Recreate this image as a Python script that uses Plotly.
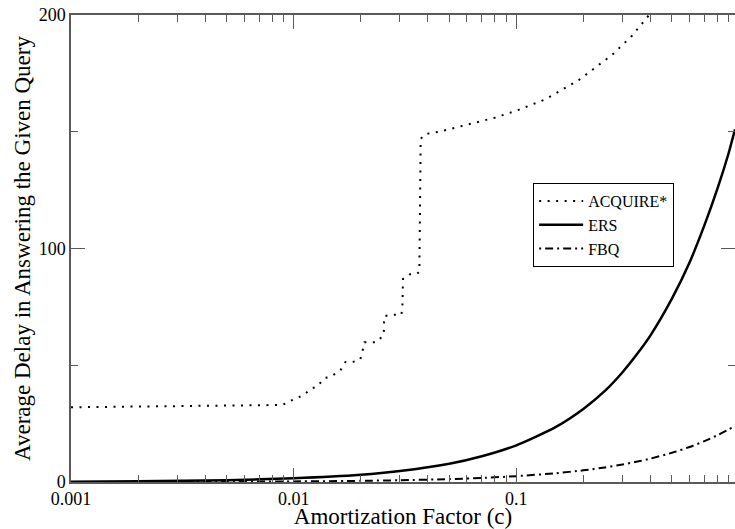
import plotly.graph_objects as go

# ---- data ----
acq_c = [0.001, 0.0089, 0.0103, 0.011, 0.012, 0.0128, 0.0137, 0.0146, 0.0162, 0.0171,
         0.0184, 0.0199, 0.0204, 0.0208, 0.0235, 0.0254, 0.0255, 0.0275, 0.0305, 0.0308,
         0.031, 0.0333, 0.0356, 0.0367, 0.0372, 0.039, 0.045, 0.06, 0.08, 0.1, 0.136,
         0.19, 0.27, 0.33, 0.395]
acq_v = [32, 33, 36, 37, 40, 41, 44.5, 45, 47.7, 51.4,
         51.4, 52.4, 56.2, 59.8, 59.8, 63, 71, 71.6, 71.6, 76,
         87, 89, 89, 90, 147, 149, 150, 153, 156, 159, 164,
         172, 183, 191, 200]

grid_c = [0.001, 0.002, 0.005, 0.01, 0.02, 0.03, 0.05, 0.07, 0.1, 0.15, 0.2, 0.25,
          0.3, 0.35, 0.4, 0.5, 0.6, 0.7, 0.8, 0.9, 0.96]
ers_v = [0.16, 0.31, 0.78, 1.6, 3.1, 4.7, 7.8, 11, 15.7, 23.5, 31.3, 39,
         47, 55, 62.7, 78.5, 94, 110, 125.5, 141, 151]
fbq_v = [0.025, 0.05, 0.12, 0.25, 0.5, 0.75, 1.25, 1.75, 2.5, 3.75, 5, 6.25,
         7.5, 8.75, 10, 12.5, 15, 17.5, 20, 22.5, 24]

x_tickvals = [0.001, 0.01, 0.1]
x_ticktext = ["0.001", "0.01", "0.1"]
y_tickvals = [0, 100, 200]

FONT = "Times New Roman, Times, Liberation Serif, DejaVu Serif, serif"
AX = "#5a5a5a"

fig = go.Figure()
fig.add_trace(go.Scatter(x=acq_c, y=acq_v, mode="lines", name="ACQUIRE*",
                         line=dict(color="black", width=2, dash="2px,6.5px")))
fig.add_trace(go.Scatter(x=grid_c, y=ers_v, mode="lines", name="ERS",
                         line=dict(color="black", width=2.5, shape="spline", smoothing=0.6)))
fig.add_trace(go.Scatter(x=grid_c, y=fbq_v, mode="lines", name="FBQ",
                         line=dict(color="black", width=2, dash="2px,4px,8px,4px",
                                   shape="spline", smoothing=0.6)))

fig.update_layout(
    width=735, height=529,
    margin=dict(l=71, r=0, t=15, b=47),
    paper_bgcolor="white", plot_bgcolor="white",
    font=dict(family=FONT, color="black"),
    showlegend=True,
    legend=dict(x=0.696, y=0.64, xanchor="left", yanchor="top",
                bgcolor="white", bordercolor="black", borderwidth=1,
                font=dict(family=FONT, size=16, color="black"),
                itemwidth=44, tracegroupgap=0),
)
fig.update_xaxes(
    type="log", range=[-3, -0.0177], automargin=False,
    tickmode="array", tickvals=x_tickvals, ticktext=x_ticktext,
    ticks="inside", ticklen=14, tickwidth=1, tickcolor=AX,
    showline=True, linecolor=AX, linewidth=1.5, mirror="allticks",
    showgrid=False, zeroline=False,
    tickfont=dict(family=FONT, size=18, color="black"),
    minor=dict(dtick="D1", ticks="inside", ticklen=7, tickwidth=1, tickcolor=AX, showgrid=False),
    title=dict(text="Amortization Factor (c)", font=dict(family=FONT, size=23, color="black"), standoff=0),
)
fig.update_yaxes(
    range=[0, 200], automargin=False,
    tickmode="array", tickvals=y_tickvals,
    ticks="inside", ticklen=14, tickwidth=1, tickcolor=AX,
    showline=True, linecolor=AX, linewidth=1.5, mirror="allticks",
    showgrid=False, zeroline=False,
    tickfont=dict(family=FONT, size=18, color="black"),
    minor=dict(dtick=50, ticks="inside", ticklen=7, tickwidth=1, tickcolor=AX, showgrid=False),
    title=dict(text="Average Delay in Answering the Given Query", font=dict(family=FONT, size=23, color="black"), standoff=2),
)

fig.write_html("out.html", config={"displayModeBar": False},
               post_script="document.body.style.margin='0';document.body.style.overflow='hidden';")
